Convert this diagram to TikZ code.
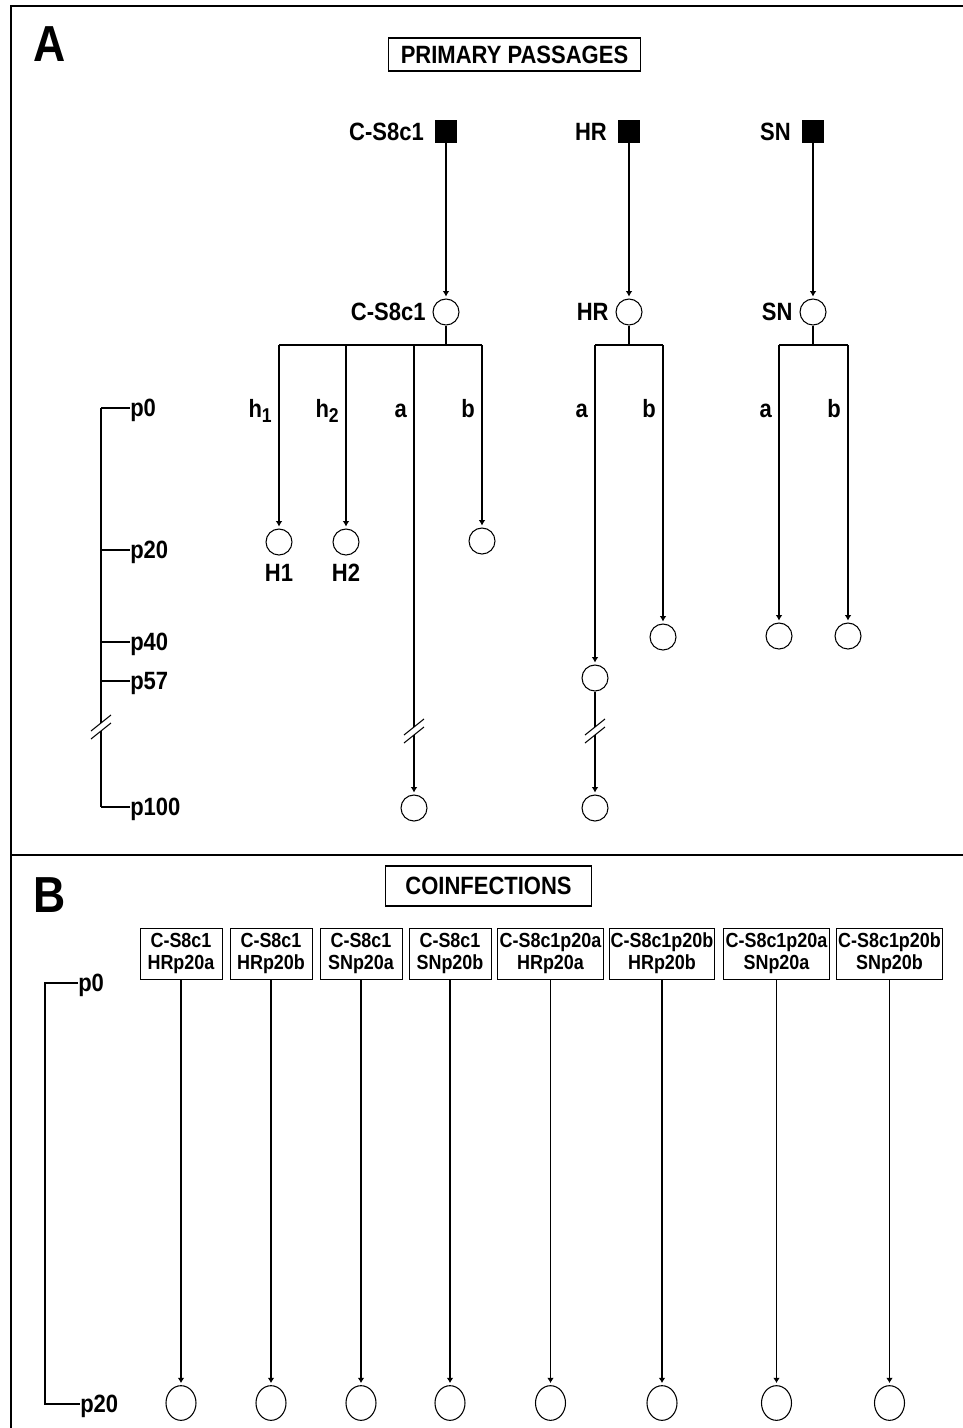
\documentclass[tikz,border=0pt]{standalone}
\usepackage{fontspec}
\setmainfont{Liberation Sans}[FakeStretch=0.88]
\usetikzlibrary{arrows.meta,positioning,shapes.geometric}

\tikzset{
  lbl/.style={font=\fontsize{18.75}{20}\selectfont\bfseries, inner sep=0pt},
  plbl/.style={lbl, anchor=west, text depth=0pt},
  ring/.style={circle, draw, line width=0.8pt, minimum size=19.5pt, inner sep=0pt},
  oval/.style={ellipse, draw, line width=0.8pt, minimum width=22.5pt, minimum height=26pt, inner sep=0pt},
  blk/.style={rectangle, fill=black, minimum width=16.5pt, minimum height=17pt, inner sep=0pt},
  title/.style={draw, line width=0.9pt, font=\fontsize{18.75}{20}\selectfont\bfseries, inner xsep=9.5pt, inner ysep=0pt},
  mix/.style={draw, line width=0.6pt, align=center, font=\fontsize{15.3}{16.5}\selectfont\bfseries, inner sep=0.5pt, minimum height=38.25pt},
  wire/.style={line width=0.8pt},
  feed/.style={wire, -{Latex[length=4pt,width=5pt]}, shorten >=1.5pt},
}

% two slanted strokes marking a break in a line
\newcommand{\brkmark}[2]{%
  \draw[wire] (#1-10,#2+4) -- (#1+10,#2-12);
  \draw[wire] (#1-10,#2+12) -- (#1+10,#2-4);
}
\newcommand{\sub}[1]{\raisebox{-0.4ex}{\fontsize{15}{15}\selectfont #1}}

\begin{document}
\begin{tikzpicture}[x=0.75pt, y=-0.75pt]
  \useasboundingbox (0,0) rectangle (963,1428);
  \def\ySq{131.5}
  \def\yRg{312}
  \def\yBar{345}
  \def\yLab{417}
  % Frame
  \draw[line width=1.6pt] (963,6) -- (11,6) -- (11,1428);
  \draw[line width=1.6pt] (11,855) -- (963,855);
  % Panel letters and titles
  \node[font=\fontsize{38}{38}\selectfont\bfseries, inner sep=0pt] (panA) at (50,44) {A};
  \node[font=\fontsize{38}{38}\selectfont\bfseries, inner sep=0pt] (panB) at (50,895) {B};
  \node[title, minimum height=24.75pt] (titA) at (514.5,54.5) {PRIMARY PASSAGES};
  \node[title, minimum width=155pt, minimum height=30pt] (titB) at (488.5,886) {COINFECTIONS};

  % Part A: parent strains
  \foreach \n/\x/\lab in {cs/446/C-S8c1, hr/629/HR, sn/813/SN} {
    \node[blk] (\n0) at (\x,\ySq) {};
    \node[lbl, left=8pt of \n0] {\lab};
    \node[ring] (\n1) at (\x,\yRg) {};
    \node[lbl, left=5pt of \n1] {\lab};
    \draw[feed] (\n0) -- (\n1);
    \coordinate (\n J) at (\x,\yBar);
    \draw[wire] (\n1) -- (\n J);
  }
  % Branch bars
  \coordinate (csL) at (279,\yBar);
  \coordinate (csR) at (482,\yBar);
  \coordinate (hrL) at (595,\yBar);
  \coordinate (hrR) at (663,\yBar);
  \coordinate (snL) at (779,\yBar);
  \coordinate (snR) at (848,\yBar);
  \draw[wire] (csL) -- (csR);
  \draw[wire] (hrL) -- (hrR);
  \draw[wire] (snL) -- (snR);
  % Branch tops and labels
  \foreach \c/\x/\lab in {bh1/279/h\sub{1}, bh2/346/h\sub{2}, bca/414/a, bcb/482/b,
                          bha/595/a, bhb/663/b, bsa/779/a, bsb/848/b} {
    \coordinate (\c) at (\x,\yBar);
    \node[lbl, anchor=base east] at (\x-7,\yLab) {\lab};
  }
  % Passage end points
  \node[ring] (H1) at (279,542) {};
  \node[ring] (H2) at (346,542) {};
  \node[ring] (cb) at (482,541) {};
  \node[ring] (hb) at (663,637) {};
  \node[ring] (sa) at (779,636) {};
  \node[ring] (sb) at (848,636) {};
  \node[ring] (ha57) at (595,678) {};
  \node[ring] (ha100) at (595,808) {};
  \node[ring] (ca100) at (414,808) {};
  \node[lbl, below=6pt of H1] {H1};
  \node[lbl, below=6pt of H2] {H2};
  \draw[feed] (bh1) -- (H1);
  \draw[feed] (bh2) -- (H2);
  \draw[feed] (bcb) -- (cb);
  \draw[feed] (bhb) -- (hb);
  \draw[feed] (bsa) -- (sa);
  \draw[feed] (bsb) -- (sb);
  \draw[feed] (bha) -- (ha57);
  % Broken lines to p100
  \coordinate (caK1) at (414,727);
  \coordinate (caK2) at (414,735);
  \draw[wire] (bca) -- (caK1);
  \draw[feed] (caK2) -- (ca100);
  \brkmark{414}{731}
  \coordinate (haK1) at (595,727);
  \coordinate (haK2) at (595,735);
  \draw[wire] (ha57) -- (haK1);
  \draw[feed] (haK2) -- (ha100);
  \brkmark{595}{731}

  % Passage scale A
  \foreach \p/\y in {p0/408, p20/550, p40/642, p57/681, p100/807} {
    \coordinate (s\p) at (101,\y);
    \node[plbl] (l\p) at (130,\y) {\p};
    \draw[wire] (s\p) -- (l\p.west);
  }
  \coordinate (sK1) at (101,723);
  \coordinate (sK2) at (101,731);
  \draw[wire] (sp0) -- (sK1);
  \draw[wire] (sK2) -- (sp100);
  \brkmark{101}{727}

  % Part B: coinfections
  \foreach \n/\x/\w/\ua/\ub in {m1/181/61.5pt/C-S8c1/HRp20a, m2/271/61.5pt/C-S8c1/HRp20b,
      m3/361/61.5pt/C-S8c1/SNp20a, m4/450/61.5pt/C-S8c1/SNp20b,
      m5/550.5/79pt/C-S8c1p20a/HRp20a, m6/662/79pt/C-S8c1p20b/HRp20b,
      m7/776.5/79pt/C-S8c1p20a/SNp20a, m8/889.5/79pt/C-S8c1p20b/SNp20b} {
    \node[mix, minimum width=\w] (\n) at (\x,953.5) {\ua\\\ub};
    \node[oval] (o\n) at (\x,1403) {};
    \draw[feed] (\n) -- (o\n);
  }
  % Passage scale B
  \coordinate (tp0) at (45,983);
  \coordinate (tp20) at (45,1404);
  \node[plbl] (lq0) at (78,983) {p0};
  \node[plbl] (lq20) at (80,1404) {p20};
  \draw[wire] (lq0.west) -- (tp0) -- (tp20) -- (lq20.west);
\end{tikzpicture}
\end{document}
